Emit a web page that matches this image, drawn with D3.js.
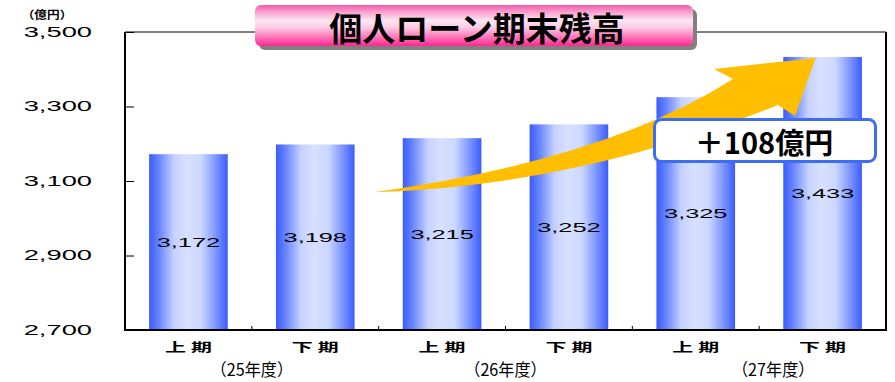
<!DOCTYPE html>
<html>
<head>
<meta charset="utf-8">
<script src="https://cdn.jsdelivr.net/npm/d3@7"></script>
<style>
  html, body { margin: 0; padding: 0; background: #fff; }
  svg { display: block; }
  .num { font-family: "Liberation Sans", Arial, sans-serif; fill: #000; }
  .jp { font-family: "Noto Sans CJK JP", "Noto Sans", sans-serif; fill: #000; }
</style>
</head>
<body>
<svg id="chart" width="895" height="382"></svg>
<script>
// 個人ローン期末残高（億円）
const periods = ["上期", "下期", "上期", "下期", "上期", "下期"];
const fiscalYears = ["（25年度）", "（26年度）", "（27年度）"];
const balances = [3172, 3198, 3215, 3252, 3325, 3433];
const yTicks = [2700, 2900, 3100, 3300, 3500];
const titleText = "個人ローン期末残高";
const unitText = "（億円）";
const increaseText = "＋108億円";

const svg = d3.select("#chart");
const plot = { left: 125, right: 886, top: 32, bottom: 330 };

const x = d3.scaleBand()
  .domain(d3.range(balances.length))
  .range([plot.left, plot.right])
  .paddingInner(0.38)
  .paddingOuter(0.19);
const y = d3.scaleLinear().domain([2700, 3500]).range([plot.bottom, plot.top]);
const step = x.step();
const cx = i => x(i) + x.bandwidth() / 2;
const boundary = i => x(i) - step * x.paddingInner() / 2;

const defs = svg.append("defs");

// horizontal cylinder-like shading for the bars
const barGrad = defs.append("linearGradient").attr("id", "barGrad")
  .attr("x1", "0").attr("x2", "1").attr("y1", "0").attr("y2", "0");
[[0, "#3a5cff"], [0.12, "#6583ff"], [0.32, "#c6d2ff"], [0.48, "#d7e0ff"],
 [0.66, "#ccd8ff"], [0.85, "#7c95ff"], [1, "#3a5cff"]]
  .forEach(([o, c]) => barGrad.append("stop").attr("offset", o).attr("stop-color", c));

// pink gradient for the title plate
const titleGrad = defs.append("linearGradient").attr("id", "titleGrad")
  .attr("x1", "0").attr("x2", "0").attr("y1", "0").attr("y2", "1");
[[0, "#f25aa9"], [0.18, "#f9a3cf"], [0.38, "#fde6f2"], [0.55, "#fbcbe4"],
 [0.8, "#ff6fb6"], [1, "#ff2690"]]
  .forEach(([o, c]) => titleGrad.append("stop").attr("offset", o).attr("stop-color", c));

// helper: horizontally stretched text
function wideText(g, txt, px, py, size, sx, anchor, cls, weight) {
  return g.append("text")
    .attr("class", cls)
    .attr("transform", `translate(${px},${py}) scale(${sx},1)`)
    .attr("text-anchor", anchor)
    .attr("dominant-baseline", "central")
    .attr("font-size", size)
    .attr("font-weight", weight || "normal")
    .text(txt);
}

// frame
const frame = svg.append("g");
frame.append("line").attr("x1", plot.left).attr("x2", plot.right)
  .attr("y1", plot.top).attr("y2", plot.top).attr("stroke", "#000").attr("stroke-width", 1);
frame.append("line").attr("x1", plot.right).attr("x2", plot.right)
  .attr("y1", plot.top).attr("y2", plot.bottom).attr("stroke", "#000").attr("stroke-width", 2);

// y axis (ticks pointing inward)
const yAxisG = svg.append("g").attr("transform", `translate(${plot.left},0)`)
  .call(d3.axisRight(y).tickValues(yTicks).tickSize(9).tickFormat(""));
yAxisG.select(".domain").remove();
yAxisG.selectAll(".tick line").attr("stroke", "#000").attr("stroke-width", 1);
yTicks.forEach(v => wideText(svg, d3.format(",")(v), 92, y(v), 14, 1.95, "end", "num"));
svg.append("line").attr("x1", plot.left).attr("x2", plot.left)
  .attr("y1", plot.top).attr("y2", plot.bottom + 1).attr("stroke", "#000").attr("stroke-width", 2);
wideText(svg, unitText, 47, 14, 11, 1.15, "middle", "jp", "bold");

// bars
svg.append("g").selectAll("rect").data(balances).join("rect")
  .attr("x", (d, i) => x(i))
  .attr("width", x.bandwidth())
  .attr("y", d => y(d))
  .attr("height", d => y(2700) - y(d))
  .attr("fill", "url(#barGrad)");

// x axis baseline and inner category ticks
svg.append("line").attr("x1", plot.left - 1).attr("x2", plot.right + 1)
  .attr("y1", plot.bottom).attr("y2", plot.bottom).attr("stroke", "#000").attr("stroke-width", 2);
svg.append("g").selectAll("line").data(d3.range(1, balances.length)).join("line")
  .attr("x1", i => boundary(i)).attr("x2", i => boundary(i))
  .attr("y1", plot.bottom).attr("y2", plot.bottom - 4)
  .attr("stroke", "#000").attr("stroke-width", 1);

// value labels, centred in each bar
balances.forEach((v, i) =>
  wideText(svg, d3.format(",")(v), cx(i), (y(v) + y(2700)) / 2, 13, 1.95, "middle", "num"));

// period labels
periods.forEach((p, i) => {
  const g = svg.append("g");
  wideText(g, p.charAt(0), cx(i) - 13, 347, 12, 1.75, "middle", "jp", "bold");
  wideText(g, p.charAt(1), cx(i) + 13, 347, 12, 1.75, "middle", "jp", "bold");
});

// fiscal year labels, centred under each pair of periods
fiscalYears.forEach((fy, k) =>
  wideText(svg, fy, boundary(2 * k + 1) + (k === 2 ? 14 : 0), 369, 17, 0.95, "middle", "jp"));

// growth arrow from the first half towards the latest balance
const tail = [boundary(2) - 5, y(3070)];
const tip = [cx(5) - 7, y(3430)];
const arrow = d3.path();
arrow.moveTo(tail[0], tail[1]);
arrow.quadraticCurveTo(606, 160, 733, 79);
arrow.lineTo(714, 69);
arrow.lineTo(tip[0], tip[1]);
arrow.lineTo(795, 116);
arrow.lineTo(778, 105);
arrow.quadraticCurveTo(578, 186, tail[0], tail[1]);
arrow.closePath();
svg.append("path").attr("d", arrow.toString()).attr("fill", "#ffbe00");

// increase callout
const callout = svg.append("g");
callout.append("rect")
  .attr("x", 654.5).attr("y", 119.5).attr("width", 221).attr("height", 42)
  .attr("rx", 7).attr("fill", "#fff").attr("stroke", "#3d6df2").attr("stroke-width", 3);
callout.append("text").attr("class", "jp")
  .attr("x", 764).attr("y", 141).attr("text-anchor", "middle").attr("dominant-baseline", "central")
  .attr("font-size", 29).attr("font-weight", "bold").text(increaseText);

// title plate with drop shadow
const title = svg.append("g");
title.append("rect").attr("x", 259).attr("y", 9).attr("width", 438).attr("height", 41)
  .attr("rx", 6).attr("fill", "#808080");
title.append("rect").attr("x", 255).attr("y", 5).attr("width", 438).attr("height", 41)
  .attr("rx", 6).attr("fill", "url(#titleGrad)");
title.append("text").attr("class", "jp")
  .attr("x", 477).attr("y", 27).attr("text-anchor", "middle").attr("dominant-baseline", "central")
  .attr("font-size", 33).attr("font-weight", "bold").text(titleText);
</script>
</body>
</html>
